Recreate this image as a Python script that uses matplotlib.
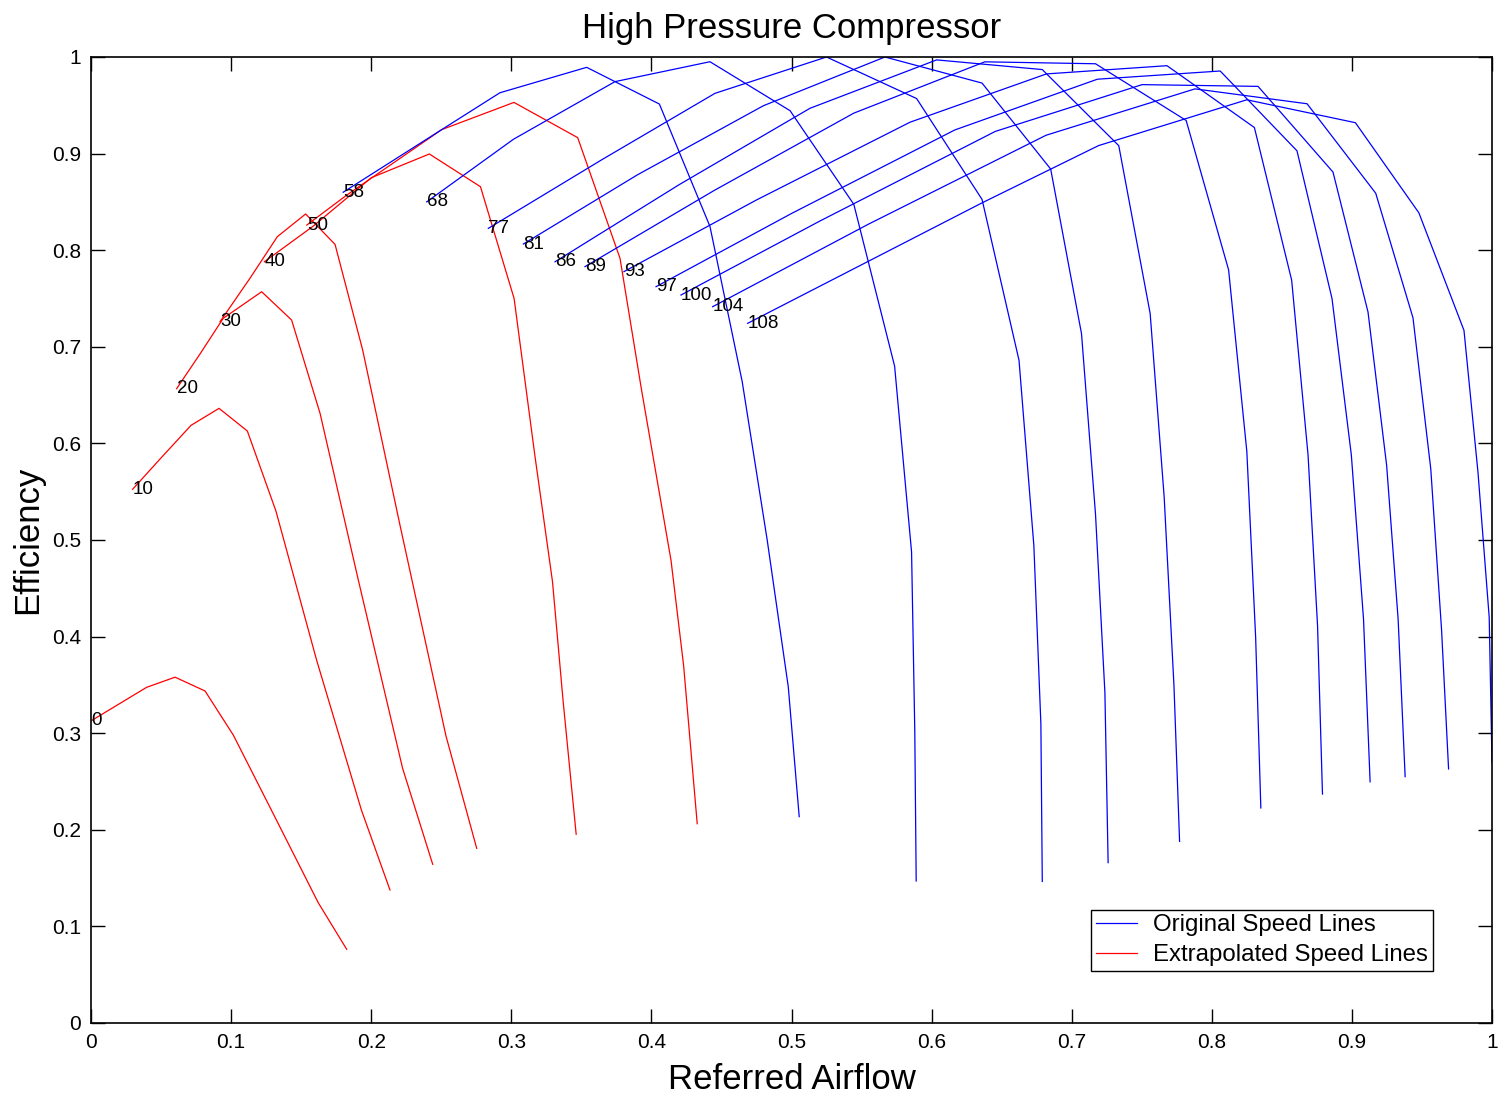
import matplotlib
matplotlib.use("Agg")
import matplotlib.pyplot as plt
from matplotlib.ticker import MultipleLocator, FormatStrFormatter

plt.rcParams['font.family'] = ['Liberation Sans', 'DejaVu Sans']

# extrapolated speed lines (red)
red_speeds = [0, 10, 20, 30, 40, 50]
red_x = [
    [0.0, 0.0397, 0.060, 0.0814, 0.1016, 0.131, 0.1622, 0.1825],
    [0.0297, 0.050, 0.0714, 0.0914, 0.1116, 0.132, 0.161, 0.193, 0.2134],
    [0.0611, 0.078, 0.0944, 0.1218, 0.1432, 0.1635, 0.1908, 0.2224, 0.2439],
    [0.0921, 0.1135, 0.133, 0.1532, 0.1742, 0.1939, 0.2206, 0.2534, 0.2753],
    [0.1237, 0.1587, 0.200, 0.2415, 0.278, 0.302, 0.3168, 0.3294, 0.337, 0.3463],
    [0.154, 0.1825, 0.2503, 0.3019, 0.3474, 0.3776, 0.393, 0.414, 0.423, 0.4327],
]
red_y = [
    [0.3127, 0.3475, 0.358, 0.3437, 0.298, 0.214, 0.1245, 0.0763],
    [0.5525, 0.585, 0.6187, 0.6363, 0.6128, 0.530, 0.3758, 0.2205, 0.1377],
    [0.6566, 0.693, 0.7295, 0.757, 0.7277, 0.6311, 0.4586, 0.2637, 0.1643],
    [0.726, 0.771, 0.814, 0.8375, 0.806, 0.6967, 0.515, 0.297, 0.1808],
    [0.788, 0.825, 0.875, 0.8996, 0.8657, 0.750, 0.5877, 0.457, 0.333, 0.1954],
    [0.826, 0.857, 0.9248, 0.953, 0.9165, 0.7916, 0.655, 0.479, 0.370, 0.2063],
]

# original speed lines (blue)
blue_speeds = [58, 68, 77, 81, 86, 89, 93, 97, 100, 104, 108]
blue_x = [
    [0.180, 0.2503, 0.2919, 0.3538, 0.4057, 0.4418, 0.4648, 0.4826, 0.4977, 0.5055],
    [0.2396, 0.3015, 0.374, 0.4418, 0.499, 0.5445, 0.5736, 0.5857, 0.588, 0.589],
    [0.2836, 0.365, 0.4454, 0.525, 0.5893, 0.636, 0.6624, 0.673, 0.678, 0.679],
    [0.3086, 0.390, 0.480, 0.5667, 0.636, 0.685, 0.707, 0.717, 0.7237, 0.726],
    [0.3312, 0.420, 0.5132, 0.6036, 0.679, 0.7336, 0.756, 0.766, 0.773, 0.777],
    [0.3526, 0.445, 0.5445, 0.638, 0.717, 0.7817, 0.812, 0.825, 0.8313, 0.835],
    [0.3804, 0.475, 0.5846, 0.682, 0.768, 0.8304, 0.857, 0.8687, 0.8755, 0.879],
    [0.4033, 0.500, 0.6166, 0.7183, 0.806, 0.8608, 0.8858, 0.8996, 0.9083, 0.913],
    [0.4211, 0.520, 0.6455, 0.7503, 0.833, 0.8865, 0.9115, 0.9248, 0.933, 0.938],
    [0.4437, 0.555, 0.6817, 0.788, 0.868, 0.917, 0.9436, 0.9563, 0.964, 0.969],
    [0.4687, 0.636, 0.7192, 0.825, 0.9025, 0.9478, 0.980, 0.990, 0.998, 1.0],
]
blue_y = [
    [0.860, 0.9248, 0.963, 0.9893, 0.9513, 0.8246, 0.664, 0.5005, 0.348, 0.2136],
    [0.850, 0.9148, 0.9745, 0.9951, 0.9444, 0.8474, 0.680, 0.4876, 0.302, 0.147],
    [0.8226, 0.894, 0.9624, 1.0, 0.957, 0.8526, 0.686, 0.494, 0.3095, 0.1465],
    [0.8064, 0.878, 0.9496, 1.0, 0.973, 0.884, 0.7136, 0.5266, 0.342, 0.166],
    [0.788, 0.868, 0.9469, 0.997, 0.987, 0.9082, 0.7345, 0.5446, 0.349, 0.188],
    [0.783, 0.862, 0.9419, 0.995, 0.993, 0.9343, 0.7796, 0.5917, 0.399, 0.2226],
    [0.7778, 0.852, 0.9325, 0.9825, 0.991, 0.927, 0.769, 0.588, 0.4108, 0.237],
    [0.7622, 0.838, 0.9245, 0.977, 0.9855, 0.9029, 0.750, 0.588, 0.418, 0.2497],
    [0.7536, 0.830, 0.923, 0.9714, 0.9696, 0.8809, 0.736, 0.5772, 0.418, 0.255],
    [0.7415, 0.827, 0.919, 0.967, 0.9516, 0.859, 0.730, 0.5736, 0.407, 0.263],
    [0.7243, 0.849, 0.9083, 0.9557, 0.932, 0.8387, 0.717, 0.570, 0.420, 0.270],
]

fig = plt.figure(figsize=(15.07, 11.03), dpi=100)
ax = fig.add_axes([91/1507, 1 - 1023/1103, 1401/1507, 966/1103])

for spd, xs, ys in zip(red_speeds, red_x, red_y):
    red_line, = ax.plot(xs, ys, color='#ff0000', lw=0.9)
    ax.text(xs[0], ys[0], str(spd), fontsize=13.5, ha='left', va='center')

for spd, xs, ys in zip(blue_speeds, blue_x, blue_y):
    blue_line, = ax.plot(xs, ys, color='#0000ff', lw=0.9)
    ax.text(xs[0], ys[0], str(spd), fontsize=13.5, ha='left', va='center')

ax.set_xlim(0, 1)
ax.set_ylim(0, 1)
ax.xaxis.set_major_locator(MultipleLocator(0.1))
ax.yaxis.set_major_locator(MultipleLocator(0.1))
ax.xaxis.set_major_formatter(FormatStrFormatter('%g'))
ax.yaxis.set_major_formatter(FormatStrFormatter('%g'))
ax.tick_params(direction='in', top=True, right=True, length=10, width=1,
               labelsize=15, pad=7)
for s in ax.spines.values():
    s.set_linewidth(1.2)

ax.set_title("High Pressure Compressor", fontsize=25, pad=14)
ax.set_xlabel("Referred Airflow", fontsize=25, labelpad=8)
ax.set_ylabel("Efficiency", fontsize=25, labelpad=6)

leg = ax.legend([blue_line, red_line], ["Original Speed Lines", "Extrapolated Speed Lines"],
                loc='lower right', bbox_to_anchor=(0.958, 0.054), fontsize=17.3,
                fancybox=False, framealpha=1, edgecolor='black', borderpad=0.2,
                handlelength=1.7, handletextpad=0.7, labelspacing=0.32,
                borderaxespad=0)
leg.get_frame().set_linewidth(1.0)

fig.savefig("out.png", dpi=100)
